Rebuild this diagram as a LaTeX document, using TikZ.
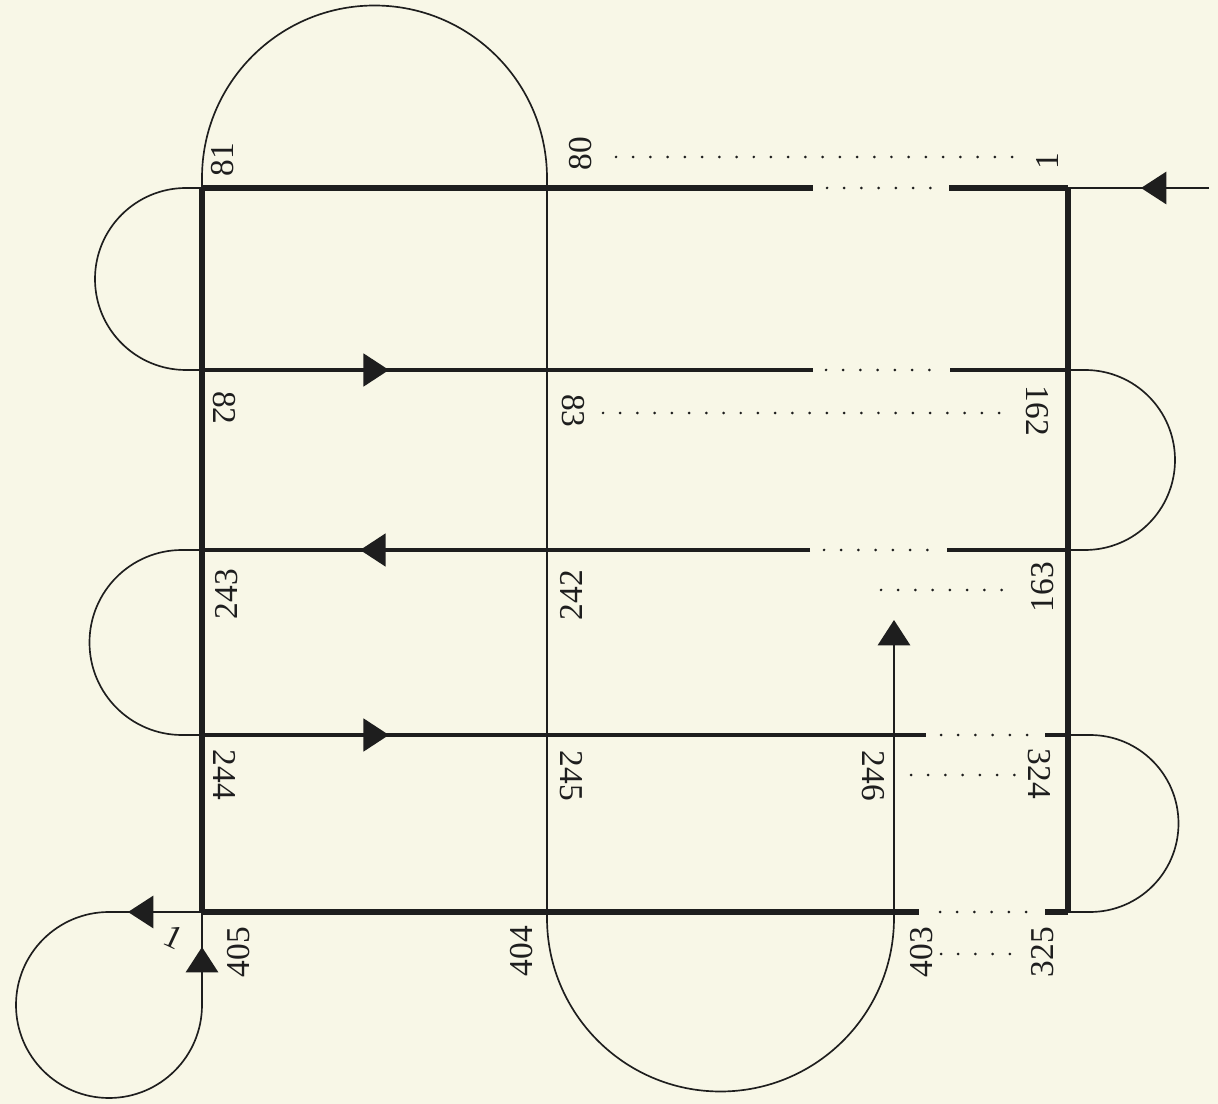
\documentclass[tikz,border=0pt]{standalone}
\usepackage{fontspec}
\setmainfont{Liberation Serif}
\usetikzlibrary{arrows.meta,decorations.markings}
\definecolor{paper}{HTML}{F8F7E7}
\definecolor{ink}{HTML}{1E1E1E}
\begin{document}
\begin{tikzpicture}[x=0.02cm,y=0.02cm,
  heavy/.style={draw=ink,line width=2.9pt},
  midline/.style={draw=ink,line width=1.8pt},
  fine/.style={draw=ink,line width=1.1pt},
  curve/.style={draw=ink,line width=0.95pt},
  dotrow/.style={draw=ink,line width=1.7pt,line cap=round,dash pattern=on 0pt off 9.8pt},
  labu/.style={font=\fontsize{19pt}{22pt}\selectfont,text=ink,inner sep=0pt,rotate=90},
  labd/.style={font=\fontsize{19pt}{22pt}\selectfont,text=ink,inner sep=0pt,rotate=-90},
  tipat/.style={postaction={decorate,decoration={markings,mark=at position #1 with {\arrow{Triangle[length=14.5pt,width=18.5pt]}}}}},
  endtip/.style={-{Triangle[length=14.5pt,width=18.5pt]}}
]
% page
\path[fill=paper] (0,0) rectangle (1218,-1104);

% grid points
\coordinate (p81) at (202,-188);  \coordinate (p80) at (547,-188);  \coordinate (p1) at (1068,-188);
\coordinate (p82) at (202,-370);  \coordinate (p83) at (547,-370);  \coordinate (p162) at (1068,-370);
\coordinate (p243) at (202,-550); \coordinate (p242) at (547,-550); \coordinate (p163) at (1068,-550);
\coordinate (p244) at (202,-735); \coordinate (p245) at (547,-735); \coordinate (p246) at (894,-735); \coordinate (p324) at (1068,-735);
\coordinate (p405) at (202,-912); \coordinate (p404) at (547,-912); \coordinate (p403) at (894,-912); \coordinate (p325) at (1068,-912);

% gap ends on the rows
\coordinate (g1a) at (813,-188); \coordinate (g1b) at (949,-188);
\coordinate (g2a) at (813,-370); \coordinate (g2b) at (950,-370);
\coordinate (g3a) at (810,-550); \coordinate (g3b) at (947,-550);
\coordinate (g4a) at (926,-735); \coordinate (g4b) at (1045,-735);
\coordinate (g5a) at (919,-912); \coordinate (g5b) at (1045,-912);

% dotted gaps
\coordinate (d1a) at (827,-188); \coordinate (d1b) at (932,-188);
\coordinate (d2a) at (826,-370); \coordinate (d2b) at (931,-370);
\coordinate (d3a) at (824,-550); \coordinate (d3b) at (929,-550);
\coordinate (d4a) at (941,-735); \coordinate (d4b) at (1030,-735);
\coordinate (d5a) at (940,-912); \coordinate (d5b) at (1028,-912);
\foreach \a/\b in {d1a/d1b,d2a/d2b,d3a/d3b,d4a/d4b,d5a/d5b}
  \draw[dotrow] (\a) -- (\b);

% dotted label leaders
\coordinate (e1a) at (616,-157); \coordinate (e1b) at (1022,-157);
\coordinate (e2a) at (603,-413); \coordinate (e2b) at (1006,-413);
\coordinate (e3a) at (881,-590); \coordinate (e3b) at (1004,-590);
\coordinate (e4a) at (911,-775); \coordinate (e4b) at (1018,-775);
\coordinate (e5a) at (941,-954); \coordinate (e5b) at (1012,-954);
\foreach \a/\b in {e1a/e1b,e2a/e2b,e3a/e3b,e4a/e4b,e5a/e5b}
  \draw[dotrow] (\a) -- (\b);

% verticals
\draw[heavy] (p81) -- (p405);
\draw[heavy] (p1) -- (p325);
\draw[fine] (p80) -- (p404);

% rows
\draw[heavy] (p81) -- (g1a);  \draw[heavy] (g1b) -- (p1);
\draw[midline,tipat=3.74cm] (p82) -- (g2a);  \draw[midline] (g2b) -- (p162);
\draw[midline,tipat=9.0cm] (g3a) -- (p243);  \draw[midline] (g3b) -- (p163);
\draw[midline,tipat=3.74cm] (p244) -- (g4a);  \draw[midline] (g4b) -- (p324);
\draw[heavy] (p405) -- (g5a);  \draw[heavy] (g5b) -- (p325);

% incoming arrow
\coordinate (in) at (1209,-188);
\draw[fine,tipat=1.36cm] (in) -- (p1);

% vertical 246 with arrow
\coordinate (vtop) at (894,-620);
\draw[fine,endtip] (p403) -- (vtop);

% semicircles
\draw[curve] (p81) -- (186,-188) arc[start angle=90,end angle=270,radius=91] -- (p82);
\draw[curve] (p243) -- (182,-550) arc[start angle=90,end angle=270,radius=92.5] -- (p244);
\draw[curve] (p162) -- (1085,-370) arc[start angle=90,end angle=-90,radius=90] -- (p163);
\draw[curve] (p324) -- (1090,-735) arc[start angle=90,end angle=-90,radius=88.5] -- (p325);
\draw[curve] (p81) -- (202,-178) arc[start angle=180,end angle=0,radius=172.5] -- (p80);
\draw[curve] (p404) -- (547,-918) arc[start angle=180,end angle=360,radius=173.5] -- (p403);

% loop at 405
\coordinate (looptop) at (109,-912);
\coordinate (loopright) at (202,-1005);
\draw[fine,tipat=1.48cm] (p405) -- (looptop);
\draw[curve] (looptop) arc[start angle=90,end angle=360,radius=93];
\draw[fine,tipat=1.16cm] (loopright) -- (p405);

% labels
\node[labu] (l81) at (223,-160) {81};
\node[labu] (l80) at (581,-154) {80};
\node[labu] (l1) at (1047,-161) {1};
\node[labd] (l82) at (224,-408) {82};
\node[labd] (l83) at (573,-411) {83};
\node[labd] (l162) at (1037,-411) {162};
\node[labu] (l243) at (227,-594) {243};
\node[labu] (l242) at (571,-595) {242};
\node[labu] (l163) at (1043,-587) {163};
\node[labd] (l244) at (225,-775) {244};
\node[labd] (l245) at (571,-776) {245};
\node[labd] (l246) at (873,-776) {246};
\node[labd] (l324) at (1039,-774) {324};
\node[labu] (l405) at (239,-952) {405};
\node[labu] (l404) at (522,-951) {404};
\node[labu] (l403) at (922,-952) {403};
\node[labu] (l325) at (1043,-952) {325};
\node[font=\fontsize{19pt}{22pt}\selectfont,text=ink,inner sep=0pt,rotate=-25] (lone) at (174,-937) {1};
\end{tikzpicture}
\end{document}
